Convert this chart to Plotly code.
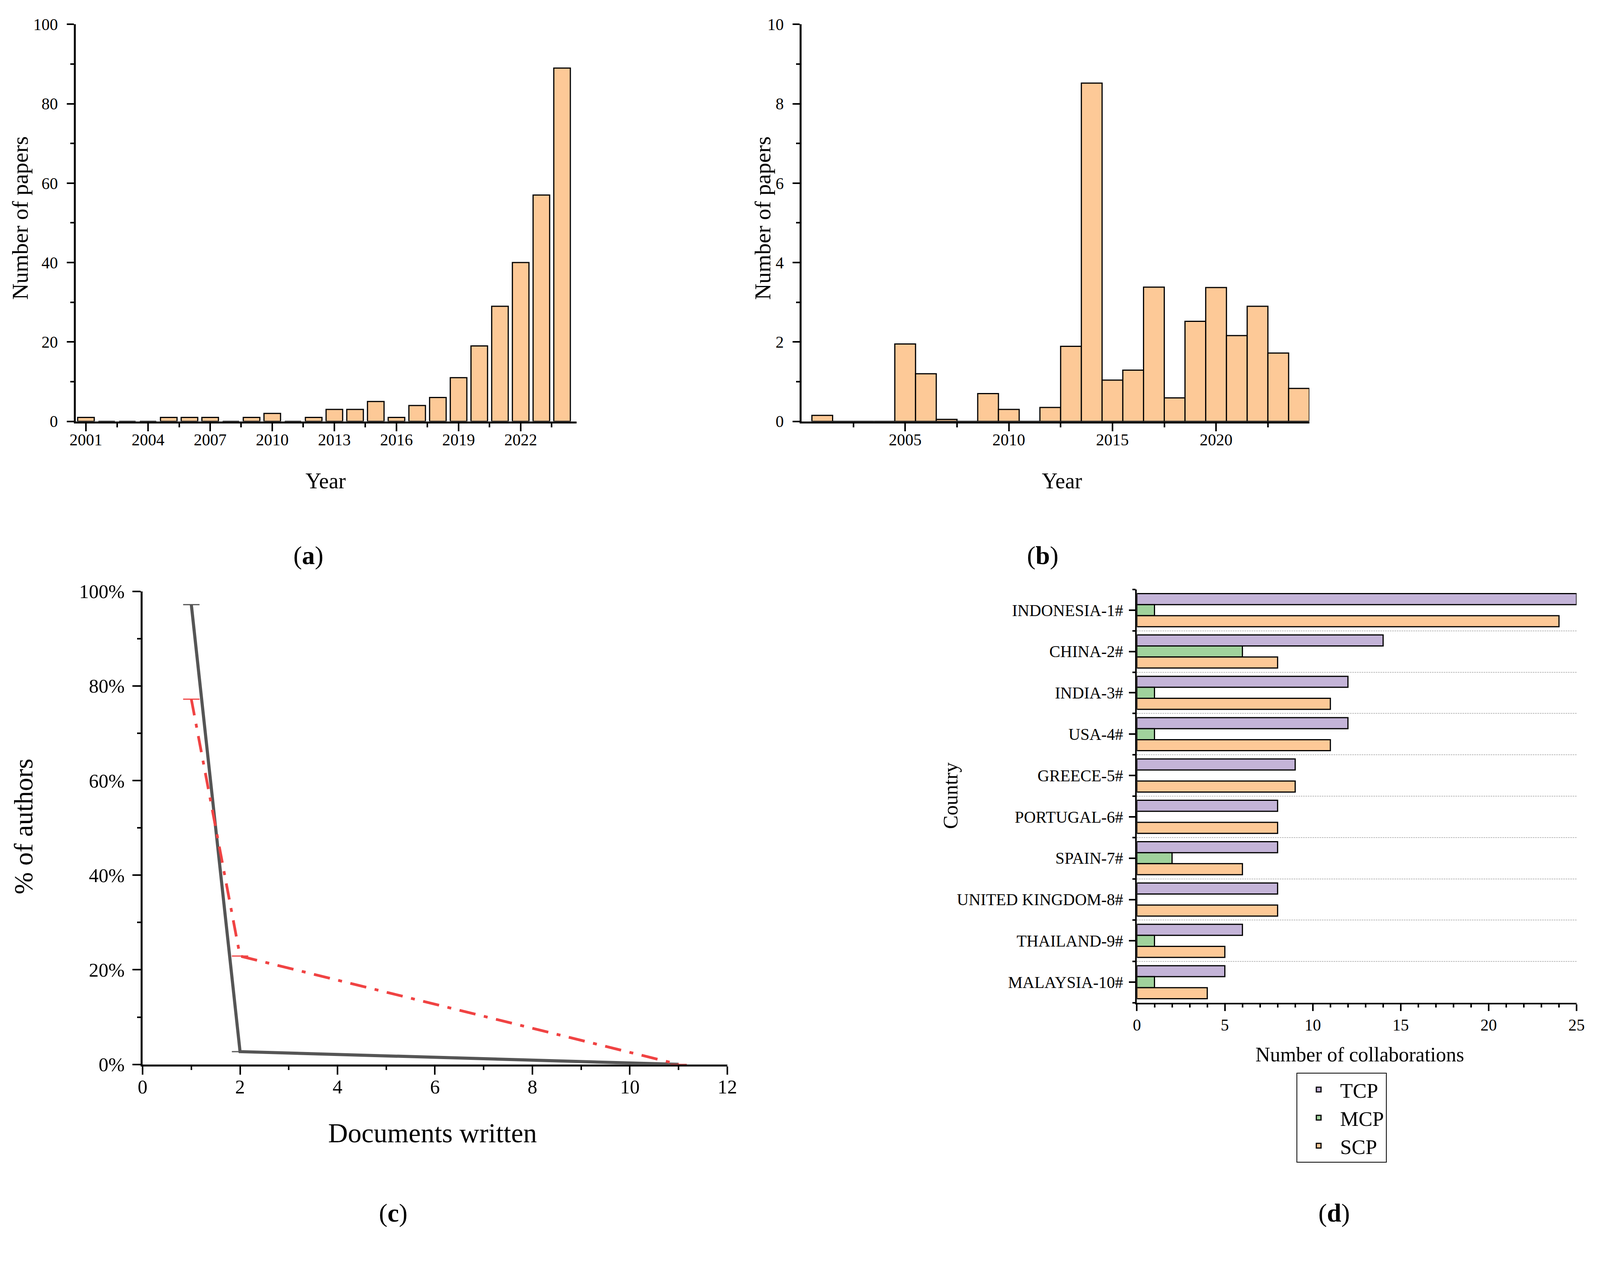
import plotly.graph_objects as go

FONT = "Liberation Serif"

# (a) papers per year
YEARS_A = list(range(2001, 2025))
PAPERS_A = [1, 0, 0, 0, 1, 1, 1, 0, 1, 2, 0, 1, 3, 3, 5, 1, 4, 6, 11, 19, 29, 40, 57, 89]

# (b) papers per year (second series)
YEARS_B = list(range(2001, 2025))
PAPERS_B = [0.15, 0, 0, 0, 1.95, 1.2, 0.05, 0, 0.7, 0.3, 0, 0.35, 1.89, 8.52,
            1.04, 1.29, 3.38, 0.59, 2.52, 3.37, 2.16, 2.9, 1.72, 0.83]
TICKS_B = [2005, 2010, 2015, 2020]

# (c) documents written vs share of authors
DOCS = [1, 2, 11]
PCT_GRAY = [97.2, 2.7, 0]
PCT_RED = [77.2, 22.9, 0]

# (d) collaborations by country
COUNTRIES = ["INDONESIA-1#", "CHINA-2#", "INDIA-3#", "USA-4#", "GREECE-5#",
             "PORTUGAL-6#", "SPAIN-7#", "UNITED KINGDOM-8#", "THAILAND-9#", "MALAYSIA-10#"]
TCP = [25, 14, 12, 12, 9, 8, 8, 8, 6, 5]
MCP = [1, 6, 1, 1, 0, 0, 2, 0, 1, 1]
SCP = [24, 8, 11, 11, 9, 8, 6, 8, 5, 4]

ORANGE = "#FDC997"
PURPLE = "#C4B4D8"
GREEN = "#A0D29C"
W, H = 4196, 3233  # reference size; positions below are given in its pixels


def px(x):
    # reference pixel -> paper fraction (small offset/scale for the page's viewport)
    return min((x - 16) / (0.988 * W), 4168 / W)


def py(y):
    return 1 - max(y - 40, 28) / H


def axis(lw=5, tw=4, tl=20, size=40, **kw):
    d = dict(showline=True, linecolor="black", linewidth=lw, ticks="outside",
             tickcolor="black", tickwidth=tw, ticklen=tl, showgrid=False,
             zeroline=False, tickfont=dict(family=FONT, size=size, color="black"))
    d.update(kw)
    return d


def minor(dtick, tw=4, tl=10, **kw):
    d = dict(ticks="outside", ticklen=tl, tickwidth=tw, tickcolor="black",
             dtick=dtick, showgrid=False)
    d.update(kw)
    return d


fig = go.Figure()

fig.add_trace(go.Bar(x=YEARS_A, y=PAPERS_A, width=0.8, marker_color=ORANGE,
                     marker_line=dict(color="black", width=3),
                     xaxis="x", yaxis="y", showlegend=False))
fig.add_trace(go.Bar(x=YEARS_B, y=PAPERS_B, width=1, marker_color=ORANGE,
                     marker_line=dict(color="black", width=3),
                     xaxis="x2", yaxis="y2", showlegend=False))

fig.add_trace(go.Scatter(x=DOCS, y=PCT_GRAY, mode="lines+markers",
                         line=dict(color="#555555", width=8),
                         marker=dict(symbol="line-ew", size=30,
                                     line=dict(color="#555555", width=3)),
                         xaxis="x3", yaxis="y3", showlegend=False))
fig.add_trace(go.Scatter(x=DOCS, y=PCT_RED, mode="lines+markers",
                         line=dict(color="#F04343", width=7, dash="42px,22px,10px,22px"),
                         marker=dict(symbol="line-ew", size=30,
                                     line=dict(color="#F04343", width=3)),
                         xaxis="x3", yaxis="y3", showlegend=False))

ypos = list(range(len(COUNTRIES)))
for name, vals, col in [("TCP", TCP, PURPLE), ("MCP", MCP, GREEN), ("SCP", SCP, ORANGE)]:
    fig.add_trace(go.Bar(y=ypos, x=vals, orientation="h", name=name, marker_color=col,
                         marker_line=dict(color="black", width=3),
                         xaxis="x4", yaxis="y4"))

fig.update_layout(
    autosize=True, margin=dict(l=0, r=0, t=0, b=0),
    paper_bgcolor="white", plot_bgcolor="white",
    font=dict(family=FONT, color="black"),
    barmode="group", bargap=0.2, bargroupgap=0,
    xaxis=axis(domain=[px(191), px(1507)], anchor="y", range=[2000.5, 2024.7],
               tick0=2001, dtick=3, ticklabelstandoff=-14, size=42,
               minor=minor(1.5, tick0=2001)),
    yaxis=axis(domain=[py(1107), py(46)], anchor="x", range=[0, 100], dtick=20,
               tl=18, ticklabelstandoff=14, size=42, minor=minor(10, tl=9)),
    xaxis2=axis(domain=[px(2098), px(3432)], anchor="y2", range=[2000, 2024.5],
                tickmode="array", tickvals=TICKS_B, ticklabelstandoff=-14, size=42,
                minor=minor(5, tick0=2002.5)),
    yaxis2=axis(domain=[py(1107), py(46)], anchor="x2", range=[0, 10], dtick=2,
                tl=18, ticklabelstandoff=14, size=42, minor=minor(1, tl=9)),
    xaxis3=axis(domain=[px(367), px(1903)], anchor="y3", range=[0, 12], dtick=2,
                size=50, tl=21, ticklabelstandoff=-12, minor=minor(1, tl=9)),
    yaxis3=axis(domain=[py(2790), py(1552)], anchor="x3", range=[0, 100], dtick=20,
                ticksuffix="%", size=50, tl=21, ticklabelstandoff=10,
                minor=minor(10, tl=9)),
    xaxis4=axis(domain=[px(2979), px(4159)], anchor="y4", range=[0, 25], dtick=5,
                lw=3.5, tw=3.5, tl=17, size=42, minor=minor(1, tw=3.5, tl=8)),
    yaxis4=axis(domain=[py(2629), py(1547)], anchor="x4", range=[9.5, -0.5],
                tickmode="array", tickvals=ypos, ticktext=COUNTRIES,
                lw=3.5, tw=3.5, tl=17, size=42, ticklabelstandoff=6,
                minor=minor(1, tw=3.5, tl=8, tick0=0.5, showgrid=True,
                            gridcolor="#BBBBBB", gridwidth=2, griddash="4px,2px")),
    legend=dict(x=px(3398), y=py(2812), xanchor="left", yanchor="top",
                bordercolor="black", borderwidth=2, bgcolor="white",
                font=dict(family=FONT, size=53, color="black"),
                traceorder="normal", itemwidth=100),
)

ann = [
    ("Number of papers", 45, 575, 58, -90),
    ("Number of papers", 1996, 575, 58, -90),
    ("Year", 848, 1263, 56, 0),
    ("Year", 2783, 1263, 56, 0),
    ("(<b>a</b>)", 803, 1458, 66, 0),
    ("(<b>b</b>)", 2732, 1458, 66, 0),
    ("% of authors", 54, 2168, 68, -90),
    ("Documents written", 1129, 2970, 70, 0),
    ("(<b>c</b>)", 1025, 3179, 66, 0),
    ("Country", 2489, 2087, 52, -90),
    ("Number of collaborations", 3564, 2764, 52, 0),
    ("(<b>d</b>)", 3497, 3179, 66, 0),
]
for text, x, y, size, angle in ann:
    fig.add_annotation(text=text, x=px(x), y=py(y), xref="paper", yref="paper",
                       showarrow=False, textangle=angle, xanchor="center", yanchor="middle",
                       font=dict(family=FONT, size=size, color="black"))

fig.write_html("out.html")
